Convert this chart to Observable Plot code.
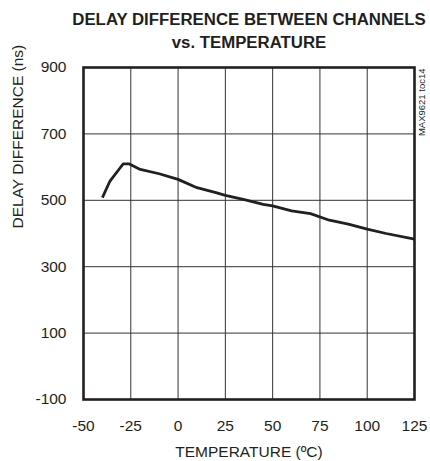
<!DOCTYPE html>
<html>
<head>
<meta charset="utf-8">
<script src="https://cdn.jsdelivr.net/npm/d3@7"></script>
<script src="https://cdn.jsdelivr.net/npm/@observablehq/plot@0.6"></script>
<style>
  html, body { margin: 0; padding: 0; background: #fff; }
</style>
</head>
<body>
<div id="chart"></div>
<script>
const temperature = [-40, -36, -31, -29, -26, -20, -10, 0, 10, 20, 25, 35, 45, 50, 60, 70, 80, 90, 100, 110, 125];
const delay = [508, 558, 595, 610, 610, 593, 580, 563, 538, 523, 515, 502, 488, 483, 468, 460, 440, 428, 413, 400, 383];
const xTicks = [-50, -25, 0, 25, 50, 75, 100, 125];
const yTicks = [-100, 100, 300, 500, 700, 900];
const title1 = "DELAY DIFFERENCE BETWEEN CHANNELS";
const title2 = "vs. TEMPERATURE";
const xLabel = "TEMPERATURE (ºC)";
const yLabel = "DELAY DIFFERENCE (ns)";
const note = "MAX9621 toc14";

const data = temperature.map((t, i) => ({t, d: delay[i]}));
const font = "'Liberation Sans', Arial, Helvetica, sans-serif";
const ink = "#231f20";
const fmt = d => String(d);

const chart = Plot.plot({
  width: 430,
  height: 461,
  marginTop: 67,
  marginLeft: 83,
  marginRight: 16,
  marginBottom: 62,
  style: {fontFamily: font, color: ink, background: "#fff"},
  x: {domain: [-50, 125]},
  y: {domain: [-100, 900]},
  marks: [
    Plot.gridX(xTicks, {stroke: "#333", strokeOpacity: 1, strokeWidth: 1}),
    Plot.gridY(yTicks, {stroke: "#333", strokeOpacity: 1, strokeWidth: 1}),
    Plot.axisX(xTicks, {tickSize: 0, tickPadding: 20, fontSize: 15.5, label: null, fill: ink, tickFormat: fmt}),
    Plot.axisY(yTicks, {tickSize: 0, tickPadding: 17, fontSize: 15.5, label: null, fill: ink, tickFormat: fmt}),
    Plot.frame({stroke: ink, strokeWidth: 2.6}),
    Plot.line(data, {x: "t", y: "d", stroke: ink, strokeWidth: 2.8, strokeLinejoin: "round", strokeLinecap: "butt"}),
    Plot.text([title1], {text: d => d, frameAnchor: "top", lineAnchor: "bottom", dy: -43, fontSize: 16.8, fontWeight: "bold", fill: ink}),
    Plot.text([title2], {text: d => d, frameAnchor: "top", lineAnchor: "bottom", dy: -20, fontSize: 16.8, fontWeight: "bold", fill: ink}),
    Plot.text([xLabel], {text: d => d, frameAnchor: "bottom", lineAnchor: "bottom", dy: 57, fontSize: 15.5, fill: ink}),
    Plot.text([yLabel], {text: d => d, frameAnchor: "left", lineAnchor: "middle", rotate: -90, dx: -65.5, dy: -5, fontSize: 15.5, fill: ink}),
    Plot.text([note], {text: d => d, frameAnchor: "top-right", textAnchor: "end", lineAnchor: "middle", rotate: -90, dx: 7, dy: 1, fontSize: 9.5, fill: ink})
  ]
});
document.getElementById("chart").appendChild(chart);
</script>
</body>
</html>
